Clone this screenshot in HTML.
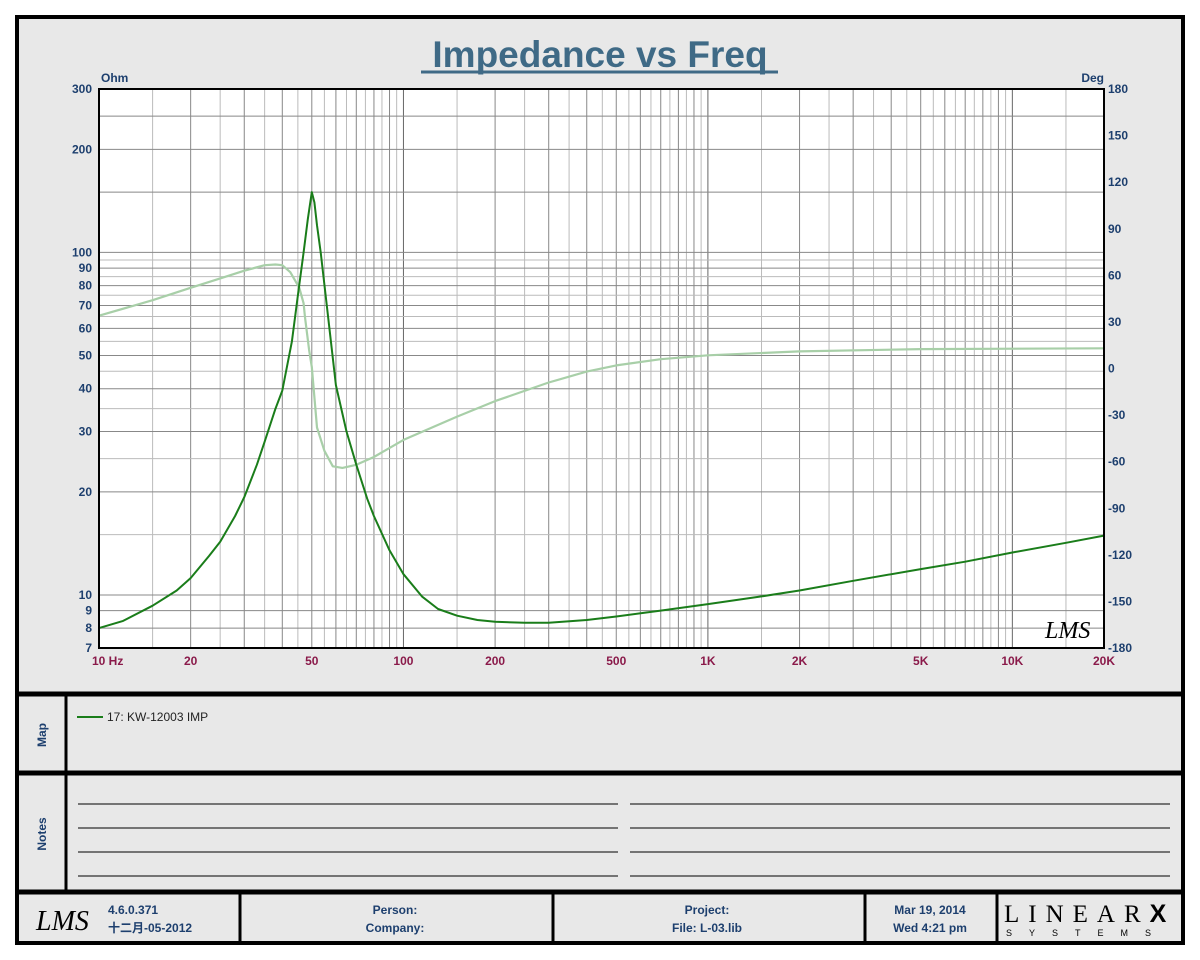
<!DOCTYPE html>
<html><head><meta charset="utf-8"><style>
body{margin:0;background:#fff;width:1200px;height:960px;overflow:hidden;font-family:"Liberation Sans","Noto Sans CJK SC",sans-serif}
svg{display:block}
</style></head><body>
<svg width="1200" height="960" xmlns="http://www.w3.org/2000/svg">
<rect x="17" y="17" width="1166" height="926" fill="#e8e8e8" stroke="#000" stroke-width="4"/>
<text x="600" y="67" text-anchor="middle" font-size="37" font-weight="bold" fill="#3f6a86">Impedance vs Freq</text>
<line x1="421" y1="72" x2="778" y2="72" stroke="#3f6a86" stroke-width="3"/>
<rect x="99" y="89" width="1005" height="559" fill="#fff"/>
<g id="grid"></g>
<g id="series"></g>
<rect x="99" y="89" width="1005" height="559" fill="none" stroke="#000" stroke-width="2"/>
<g id="labels" font-weight="bold" font-size="12"></g>
<text x="101" y="82" font-size="12" font-weight="bold" fill="#1d3f6e">Ohm</text>
<text x="1104" y="82" text-anchor="end" font-size="12" font-weight="bold" fill="#1d3f6e">Deg</text>
<text x="1045" y="638" font-size="24" font-style="italic" font-family="Liberation Serif,serif" fill="#000">LMS</text>
<line x1="17" y1="694" x2="1183" y2="694" stroke="#000" stroke-width="5"/>
<line x1="17" y1="773" x2="1183" y2="773" stroke="#000" stroke-width="5"/>
<line x1="17" y1="892" x2="1183" y2="892" stroke="#000" stroke-width="5"/>
<line x1="66" y1="694" x2="66" y2="892" stroke="#000" stroke-width="3"/>
<text transform="translate(46,735) rotate(-90)" text-anchor="middle" font-size="12" font-weight="bold" fill="#1d3f6e">Map</text>
<text transform="translate(46,834) rotate(-90)" text-anchor="middle" font-size="12" font-weight="bold" fill="#1d3f6e">Notes</text>
<line x1="77" y1="717" x2="103" y2="717" stroke="#1a7d1a" stroke-width="2"/>
<text x="107" y="721" font-size="12" fill="#222">17: KW-12003  IMP</text>
<g stroke="#000" stroke-width="1">
<line x1="78" y1="804" x2="618" y2="804"/><line x1="630" y1="804" x2="1170" y2="804"/>
<line x1="78" y1="828" x2="618" y2="828"/><line x1="630" y1="828" x2="1170" y2="828"/>
<line x1="78" y1="852" x2="618" y2="852"/><line x1="630" y1="852" x2="1170" y2="852"/>
<line x1="78" y1="876" x2="618" y2="876"/><line x1="630" y1="876" x2="1170" y2="876"/>
</g>
<g stroke="#000" stroke-width="3">
<line x1="240" y1="894" x2="240" y2="943"/><line x1="553" y1="894" x2="553" y2="943"/>
<line x1="865" y1="894" x2="865" y2="943"/><line x1="997" y1="894" x2="997" y2="943"/>
</g>
<g font-size="12" font-weight="bold" fill="#1d3f6e">
<text x="36" y="930" font-size="28" font-style="italic" font-weight="normal" font-family="Liberation Serif,serif" fill="#000">LMS</text>
<text x="108" y="914">4.6.0.371</text>
<text x="108" y="932">十二月-05-2012</text>
<text x="395" y="914" text-anchor="middle">Person:</text>
<text x="395" y="932" text-anchor="middle">Company:</text>
<text x="707" y="914" text-anchor="middle">Project:</text>
<text x="707" y="932" text-anchor="middle">File: L-03.lib</text>
<text x="930" y="914" text-anchor="middle">Mar 19, 2014</text>
<text x="930" y="932" text-anchor="middle">Wed  4:21 pm</text>
</g>
<text x="1004" y="922" font-size="25" font-family="Liberation Serif,serif" fill="#000" letter-spacing="9">LINEAR<tspan font-weight="bold" font-family="Liberation Sans,sans-serif">X</tspan></text>
<text x="1006" y="936" font-size="9" fill="#000" letter-spacing="17">SYSTEMS</text>
</svg>
<script>
const freqs=[10,12,15,18,20,23,25,28,30,33,35,38,40,43,45,47,48.5,50,51,52,53.5,56,60,65,70,76,80,90,100,115,130,150,175,200,250,300,400,500,700,1000,1500,2000,3000,5000,7000,10000,15000,20000];
const impedance=[8.0,8.4,9.3,10.3,11.2,13,14.3,17,19.3,24,28,35,39.5,55,75,100,125,150,140,120,100,70,41,30,24,19.1,17,13.5,11.5,9.9,9.1,8.7,8.45,8.35,8.3,8.3,8.45,8.65,9,9.4,9.9,10.3,11,11.9,12.5,13.3,14.2,14.9];
const phaseF=[10,15,20,25,30,35,38,40,42.5,45.5,47,47.5,49,50,52,55,58.6,63,70,80,100,150,200,300,400,500,700,1000,2000,5000,20000];
const phase=[34,44,52,58,63,66.5,67,66.5,62,52,42,33,12,1,-38,-53,-63,-64,-62,-57,-46,-31,-21,-9,-2,2,6,8.5,11,12.5,13];
const xTicks=[10,20,50,100,200,500,1000,2000,5000,10000,20000];
const xTickLabels=["10  Hz","20","50","100","200","500","1K","2K","5K","10K","20K"];
const yTicks=[7,8,9,10,20,30,40,50,60,70,80,90,100,200,300];
const y2Ticks=[180,150,120,90,60,30,0,-30,-60,-90,-120,-150,-180];
const X0=99,X1=1104,Y0=89,Y1=648;
const xs=f=>X0+(X1-X0)*Math.log10(f/10)/Math.log10(2000);
const ys=z=>Y0+(Y1-Y0)*Math.log10(300/z)/Math.log10(300/7);
const yp=p=>Y0+(Y1-Y0)*(180-p)/360;
const NS="http://www.w3.org/2000/svg";
const grid=document.getElementById('grid'),ser=document.getElementById('series'),lab=document.getElementById('labels');
function ln(x1,y1,x2,y2,c){const l=document.createElementNS(NS,'line');l.setAttribute('x1',x1);l.setAttribute('y1',y1);l.setAttribute('x2',x2);l.setAttribute('y2',y2);l.setAttribute('stroke',c);l.setAttribute('stroke-width',1);grid.appendChild(l);return l;}
for(let d=10;d<=10000;d*=10){for(let m=1;m<10;m+=0.5){const f=d*m;if(f>20000)break;const x=xs(f);const l=ln(x,Y0,x,Y1,m===1?'#666':(Number.isInteger(m)?'#888':'#bbb'));

}}
const hz=[7,8,9];for(let v=10;v<100;v+=5)hz.push(v);for(let v=100;v<=300;v+=50)hz.push(v);
hz.forEach(v=>{const y=ys(v);const l=ln(X0,y,X1,y,(v%10===0||v<10)?'#888':'#bbb');

});
function txt(x,y,s,anchor,col,name){const t=document.createElementNS(NS,'text');t.setAttribute('x',x);t.setAttribute('y',y);t.setAttribute('text-anchor',anchor);t.setAttribute('fill',col);t.textContent=s;

lab.appendChild(t);}
xTicks.forEach((f,i)=>txt(i===0?92:(i===xTicks.length-1?1104:xs(f)),665,xTickLabels[i],i===0?'start':'middle','#8a1a4a','x-tick-label'));
yTicks.forEach(v=>txt(92,ys(v)+4,String(v),'end','#1d3f6e','y-tick-label'));
y2Ticks.forEach(v=>txt(1108,yp(v)+4,String(v),'start','#1d3f6e','y2-tick-label'));
function path(fx,vals,sy,col,w,name){let d='';fx.forEach((f,i)=>{d+=(i?'L':'M')+xs(f).toFixed(1)+','+sy(vals[i]).toFixed(1);});const p=document.createElementNS(NS,'path');p.setAttribute('d',d);p.setAttribute('fill','none');p.setAttribute('stroke',col);p.setAttribute('stroke-width',w);p.setAttribute('stroke-linejoin','round');

ser.appendChild(p);}
path(phaseF,phase,yp,'#a8cfa8',2.2,'phase-line');
path(freqs,impedance,ys,'#1a7d1a',2,'impedance-line');
</script>
</body></html>
